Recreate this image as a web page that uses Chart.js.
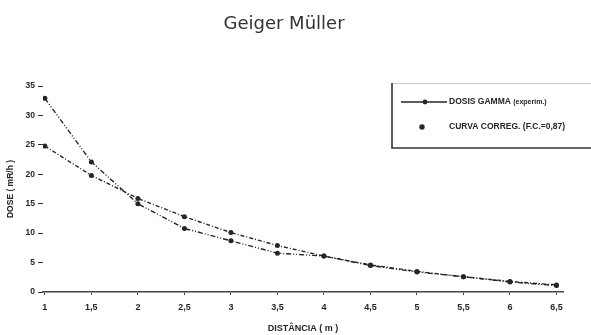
<!DOCTYPE html>
<html>
<head>
<meta charset="utf-8">
<title>Geiger Müller</title>
<script src="https://cdn.jsdelivr.net/npm/chart.js@4/dist/chart.umd.min.js"></script>
<style>
  html, body { margin: 0; padding: 0; background: #fff; }
  #wrap { width: 591px; height: 335px; }
</style>
</head>
<body>
<div id="wrap"><canvas id="myChart" width="591" height="335"></canvas></div>
<script>
//* DATA *//
let distancias = [1, 1.5, 2, 2.5, 3, 3.5, 4, 4.5, 5, 5.5, 6, 6.5];
let xTickLabels = ['1', '1,5', '2', '2,5', '3', '3,5', '4', '4,5', '5', '5,5', '6', '6,5'];
let dosisGamma = [32.9, 22.1, 15.0, 10.8, 8.7, 6.6, 6.1, 4.5, 3.4, 2.6, 1.7, 1.1];
let curvaCorreg = [24.8, 19.8, 15.9, 12.8, 10.1, 7.9, 6.1, 4.6, 3.5, 2.6, 1.8, 1.2];
let yTicks = [0, 5, 10, 15, 20, 25, 30, 35];

let ink = '#262626';

function toPoints(values) {
  let pts = [];
  for (let i = 0; i < distancias.length; i++) {
    pts.push({ x: distancias[i], y: values[i] });
  }
  return pts;
}

//* TITLE + LEGEND BOX (drawn by hand, like the scanned original) *//
let extrasPlugin = {
  id: 'extras',
  afterDraw(chart) {
    let c = chart.ctx;
    c.save();
    // title
    c.fillStyle = '#333';
    c.font = '18px "DejaVu Sans"';
    c.textAlign = 'center';
    c.textBaseline = 'middle';
    c.fillText('Geiger Müller', 284, 24);

    // legend box
    c.strokeStyle = '#ccc';
    c.lineWidth = 1;
    c.beginPath();
    c.moveTo(392, 83.5);
    c.lineTo(591, 83.5);
    c.stroke();
    c.strokeStyle = '#333';
    c.lineWidth = 1.6;
    c.beginPath();
    c.moveTo(392, 83);
    c.lineTo(392, 148);
    c.lineTo(591, 148);
    c.stroke();

    let ds = chart.data.datasets;
    // entry 1: line + marker
    c.strokeStyle = ink;
    c.lineWidth = 1.4;
    c.beginPath();
    c.moveTo(401, 102);
    c.lineTo(447, 102);
    c.stroke();
    c.fillStyle = ink;
    c.beginPath();
    c.arc(425, 102, 2.4, 0, Math.PI * 2);
    c.fill();
    // entry 2: marker only
    c.beginPath();
    c.arc(422, 127, 2.7, 0, Math.PI * 2);
    c.fill();

    c.textAlign = 'left';
    c.font = 'bold 8.5px "Liberation Sans"';
    c.fillText(ds[0].label, 449, 102);
    let w = c.measureText(ds[0].label + ' ').width;
    c.font = 'bold 7px "Liberation Sans"';
    c.fillText('(experim.)', 449 + w, 102.5);
    c.font = 'bold 8.5px "Liberation Sans"';
    c.fillText(ds[1].label, 449, 127);
    c.restore();
  }
};

let ctx = document.getElementById('myChart');

let chartObj = {
  type: 'line',
  data: {
    datasets: [
      {
        label: 'DOSIS GAMMA',
        data: toPoints(dosisGamma),
        borderColor: ink,
        backgroundColor: ink,
        borderWidth: 1.4,
        borderDash: [5, 2, 1, 2, 1, 2],
        pointRadius: 2.5,
        pointBorderWidth: 0,
        pointBackgroundColor: ink,
        tension: 0
      },
      {
        label: 'CURVA CORREG. (F.C.=0,87)',
        data: toPoints(curvaCorreg),
        borderColor: ink,
        backgroundColor: ink,
        borderWidth: 1.4,
        borderDash: [4, 2, 1, 2],
        pointRadius: 2.5,
        pointBorderWidth: 0,
        pointBackgroundColor: ink,
        tension: 0
      }
    ]
  },
  options: {
    responsive: false,
    animation: false,
    layout: { padding: { top: 86, right: 28, bottom: 0, left: 0 } },
    plugins: {
      legend: { display: false },
      title: { display: false },
      tooltip: { enabled: false }
    },
    scales: {
      x: {
        type: 'linear',
        min: 0.98,
        max: 6.57,
        afterFit: s => { s.height = 43; },
        afterBuildTicks: s => { s.ticks = distancias.map(v => ({ value: v })); },
        border: { display: true, color: '#444', width: 1.6 },
        grid: { drawOnChartArea: false, drawTicks: true, tickLength: 3, color: '#444' },
        ticks: {
          color: ink,
          padding: 7,
          maxRotation: 0,
          autoSkip: false,
          font: { family: 'Liberation Sans', size: 9, weight: 'bold' },
          callback: function (value) {
            let i = distancias.indexOf(value);
            return i >= 0 ? xTickLabels[i] : '';
          }
        },
        title: {
          display: true,
          text: 'DISTÂNCIA ( m )',
          color: ink,
          font: { family: 'Liberation Sans', size: 9, weight: 'bold' },
          padding: { top: 0, bottom: 1 }
        }
      },
      y: {
        min: 0,
        max: 35,
        afterFit: s => { s.width = 43; },
        afterBuildTicks: s => { s.ticks = yTicks.map(v => ({ value: v })); },
        border: { display: false },
        grid: { drawOnChartArea: false, drawTicks: true, tickLength: 5, color: '#333' },
        ticks: {
          color: ink,
          padding: 3,
          font: { family: 'Liberation Sans', size: 8.5, weight: 'bold' }
        },
        title: {
          display: true,
          text: 'DOSE ( mR/h )',
          color: ink,
          font: { family: 'Liberation Sans', size: 8.5, weight: 'bold' },
          padding: { top: 6, bottom: 0 }
        }
      }
    }
  },
  plugins: [extrasPlugin]
};

new Chart(ctx, chartObj);
</script>
</body>
</html>
